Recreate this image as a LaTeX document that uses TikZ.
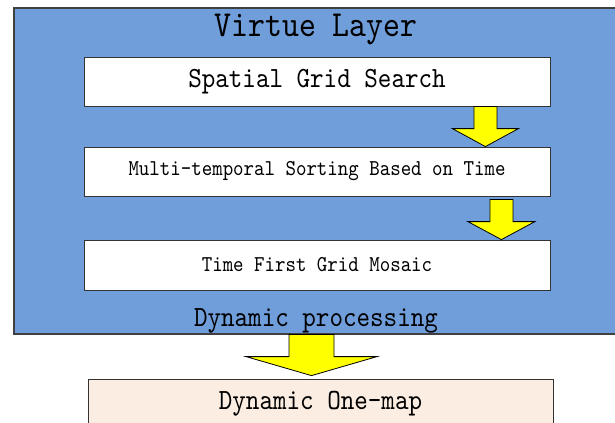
\documentclass[tikz,border=0pt]{standalone}
\usepackage{fontspec}
\usepackage{xcolor}
\usepackage{tikz}
\usetikzlibrary{calc}

\newfontfamily\condmono[FakeStretch=0.88, Extension=.otf]{lmmono10-regular}

\definecolor{layerblue}{RGB}{112,158,219}
\definecolor{mapbeige}{RGB}{251,237,225}
\definecolor{arrowyellow}{RGB}{255,255,0}

\tikzset{
  layerbox/.style={draw=black!75, fill=layerblue, line width=0.8pt, inner sep=0pt},
  stepbox/.style={draw=black!80, fill=white, line width=0.6pt, minimum width=349.5pt, minimum height=36.75pt, inner sep=0.75pt},
  fatarrow/.style={draw=black, fill=arrowyellow, line width=0.6pt, line join=miter},
  titletext/.style={font=\condmono\fontsize{27.5}{33}\selectfont, inner sep=0.75pt},
  bigtext/.style={font=\condmono\fontsize{22}{26}\selectfont},
  smalltext/.style={font=\condmono\fontsize{17}{20}\selectfont},
}

% block arrow: tail, tip, shaft half width, head half width, head length
\newcommand{\yellowarrow}[5]{%
  \draw[fatarrow] ($(#1)+(-#3,0)$) -- ($(#1)+(#3,0)$) -- ($(#2)+(#3,-#5)$) -- ($(#2)+(#4,-#5)$) -- (#2) -- ($(#2)+(-#4,-#5)$) -- ($(#2)+(-#3,-#5)$) -- cycle;}

\begin{document}
\begin{tikzpicture}[x=0.75pt,y=0.75pt,yscale=-1,xscale=1]
\clip (0,0) rectangle (615,422);

\node[layerbox, minimum width=462pt, minimum height=244.5pt] (layer) at (322,171) {};
\node[titletext] (title) at (316,29) {Virtue Layer};

\node[stepbox, bigtext] (search) at (317,81.5) {Spatial Grid Search};
\node[stepbox, smalltext] (sorting) at (317,171.5) {Multi-temporal Sorting Based on Time};
\node[stepbox, smalltext, minimum height=37.5pt] (mosaic) at (317,265) {Time First Grid Mosaic};
\node[bigtext, inner sep=0.75pt] (processing) at (316,320.5) {Dynamic processing};

\node[stepbox, bigtext, fill=mapbeige, minimum width=348.75pt, minimum height=37.5pt] (onemap) at (320.5,404) {Dynamic One-map};

% arrows
\coordinate (a1tail) at ($(search.south east)+(-65,0)$);
\coordinate (a1tip) at ($(sorting.north east)+(-65,0)$);
\yellowarrow{a1tail}{a1tip}{11.5}{33}{18}

\coordinate (a2tail) at ($(sorting.south east)+(-49,3)$);
\coordinate (a2tip) at ($(mosaic.north east)+(-49,0)$);
\yellowarrow{a2tail}{a2tip}{11.5}{33.5}{18}

\coordinate (a3tip) at ($(onemap.north)+(-9,-3)$);
\coordinate (a3tail) at (a3tip |- layer.south);
\yellowarrow{a3tail}{a3tip}{22.5}{65.5}{19}

\end{tikzpicture}
\end{document}
